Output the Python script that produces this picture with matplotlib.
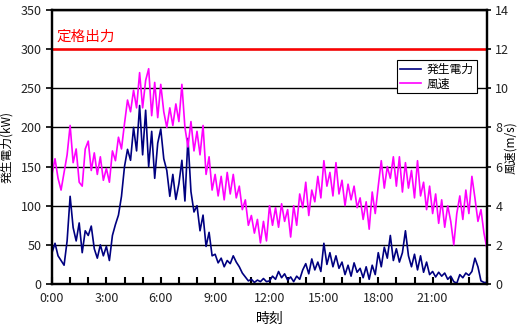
import numpy as np
import matplotlib
matplotlib.use("Agg")
import matplotlib.pyplot as plt

plt.rcParams['font.family'] = ['Noto Sans CJK JP', 'DejaVu Sans']

# 10-minute readings, 0:00 .. 24:00
power_kw = [
    40, 52, 36, 30, 24, 55,
    112, 72, 55, 78, 40, 68,
    62, 74, 45, 33, 50, 36,
    48, 30, 62, 76, 88, 112,
    150, 172, 158, 200, 170, 228,
    165, 222, 150, 195, 135, 180,
    198, 160, 145, 112, 140, 108,
    128, 158, 106, 186, 118, 92,
    100, 68, 88, 48, 66, 36,
    38, 27, 33, 22, 30, 26,
    36, 28, 22, 14, 9, 4,
    6, 2, 5, 3, 7, 3,
    4, 10, 6, 16, 8, 13,
    5, 9, 3, 10, 6, 18,
    26, 13, 32, 18, 28, 16,
    52, 25, 40, 22, 36, 20,
    28, 12, 24, 10, 27, 15,
    20, 8, 22, 6, 24, 12,
    40, 22, 47, 33, 62, 30,
    45, 28, 40, 68, 36, 22,
    38, 18, 36, 15, 28, 12,
    16, 9, 15, 10, 14, 6,
    10, 3, 1, 12, 8, 14,
    11, 16, 33, 22, 4, 2,
    2,
]
wind_ms = [
    5.6, 6.4, 5.4, 4.8, 5.7, 6.6,
    8.1, 6.2, 6.9, 5.2, 5.0, 6.9,
    7.3, 5.8, 6.7, 5.6, 6.5, 5.3,
    5.9, 5.2, 6.8, 6.3, 7.5, 6.9,
    8.2, 9.4, 8.8, 9.9, 9.0, 10.8,
    9.0, 10.4, 11.0, 8.6, 10.3, 8.5,
    10.2, 8.8, 8.0, 9.0, 8.1, 9.2,
    8.3, 10.2, 8.0, 7.0, 8.3, 6.8,
    7.8, 6.6, 8.1, 5.6, 6.5, 4.8,
    5.6, 4.5, 5.5, 4.3, 5.7, 4.6,
    5.6, 4.4, 5.0, 3.8, 4.3, 3.0,
    3.5, 2.6, 3.3, 2.1, 3.2, 2.2,
    4.0, 3.0, 3.9, 2.9, 4.1, 3.2,
    3.8, 2.4, 4.0, 3.0, 4.6, 3.9,
    5.2, 3.5, 4.8, 4.2, 5.5, 4.4,
    6.3, 5.0, 5.7, 4.5, 6.2, 4.6,
    5.3, 4.0, 5.1, 4.3, 5.0, 3.9,
    4.4, 3.3, 4.2, 2.8, 4.7, 3.6,
    5.0, 6.3, 4.9, 6.0, 5.4, 6.5,
    5.0, 6.5, 4.7, 6.2, 4.9, 5.8,
    4.4, 6.3, 4.5, 5.2, 3.8, 5.0,
    3.6, 4.6, 3.1, 4.3, 2.9, 4.0,
    3.2, 2.0, 3.6, 4.5, 3.3, 4.8,
    3.6, 5.5, 4.4, 3.2, 3.8, 2.6,
    1.8,
]
rated_kw = 300
hour_labels = ["0:00", "3:00", "6:00", "9:00", "12:00", "15:00", "18:00", "21:00"]

hours = np.arange(len(power_kw)) * 10 / 60.0

fig = plt.figure(figsize=(5.2, 3.3), dpi=100)
ax = fig.add_axes([52 / 520, 1 - 284 / 330, 435 / 520, 274 / 330])
ax2 = ax.twinx()

for y in range(50, 351, 50):
    ax.axhline(y, color="black", lw=1.0, zorder=1)
ax.axhline(rated_kw, color="#ff0000", lw=1.8, zorder=2)
ax.text(0.25, rated_kw + 7, "定格出力", color="#ff0000", fontsize=10.5, va="bottom")

l1, = ax.plot(hours, power_kw, color="#000080", lw=1.2, zorder=3)
l2, = ax2.plot(hours, wind_ms, color="#ff00ff", lw=1.2)

ax.set_xlim(0, 24)
ax.set_ylim(0, 350)
ax2.set_ylim(0, 14)
ax.set_yticks(range(0, 351, 50))
ax2.set_yticks(range(0, 15, 2))

ax.set_xticks(range(0, 25))
ax.set_xticklabels([hour_labels[h // 3] if h % 3 == 0 and h < 24 else "" for h in range(25)])

for a in (ax, ax2):
    for s in a.spines.values():
        s.set_linewidth(1.6)
    a.tick_params(labelsize=9, colors="#222222")
ax.tick_params(axis="x", direction="in", length=5, width=1.5, pad=6, color="black")
ax.tick_params(axis="y", direction="out", length=4, width=1.2, color="black")
ax2.tick_params(axis="y", direction="out", length=3, width=1.2, pad=3, color="black")

ax.set_xlabel("時刻", fontsize=10, labelpad=5)
ax.set_ylabel("発生電力(kW)", fontsize=8.5, labelpad=5)
fig.text(511 / 520, 1 - 148 / 330, "風速(m/s)", fontsize=8.5, rotation=90,
         ha="center", va="center")

leg = ax2.legend([l1, l2], ["発生電力", "風速"], loc="upper right",
                 bbox_to_anchor=(0.99, 0.84), fontsize=8.5, fancybox=False,
                 framealpha=1, edgecolor="black", handlelength=1.8,
                 handletextpad=0.5, borderpad=0.25, labelspacing=0.15)
leg.get_frame().set_linewidth(0.8)

fig.savefig("out.png", dpi=100)
